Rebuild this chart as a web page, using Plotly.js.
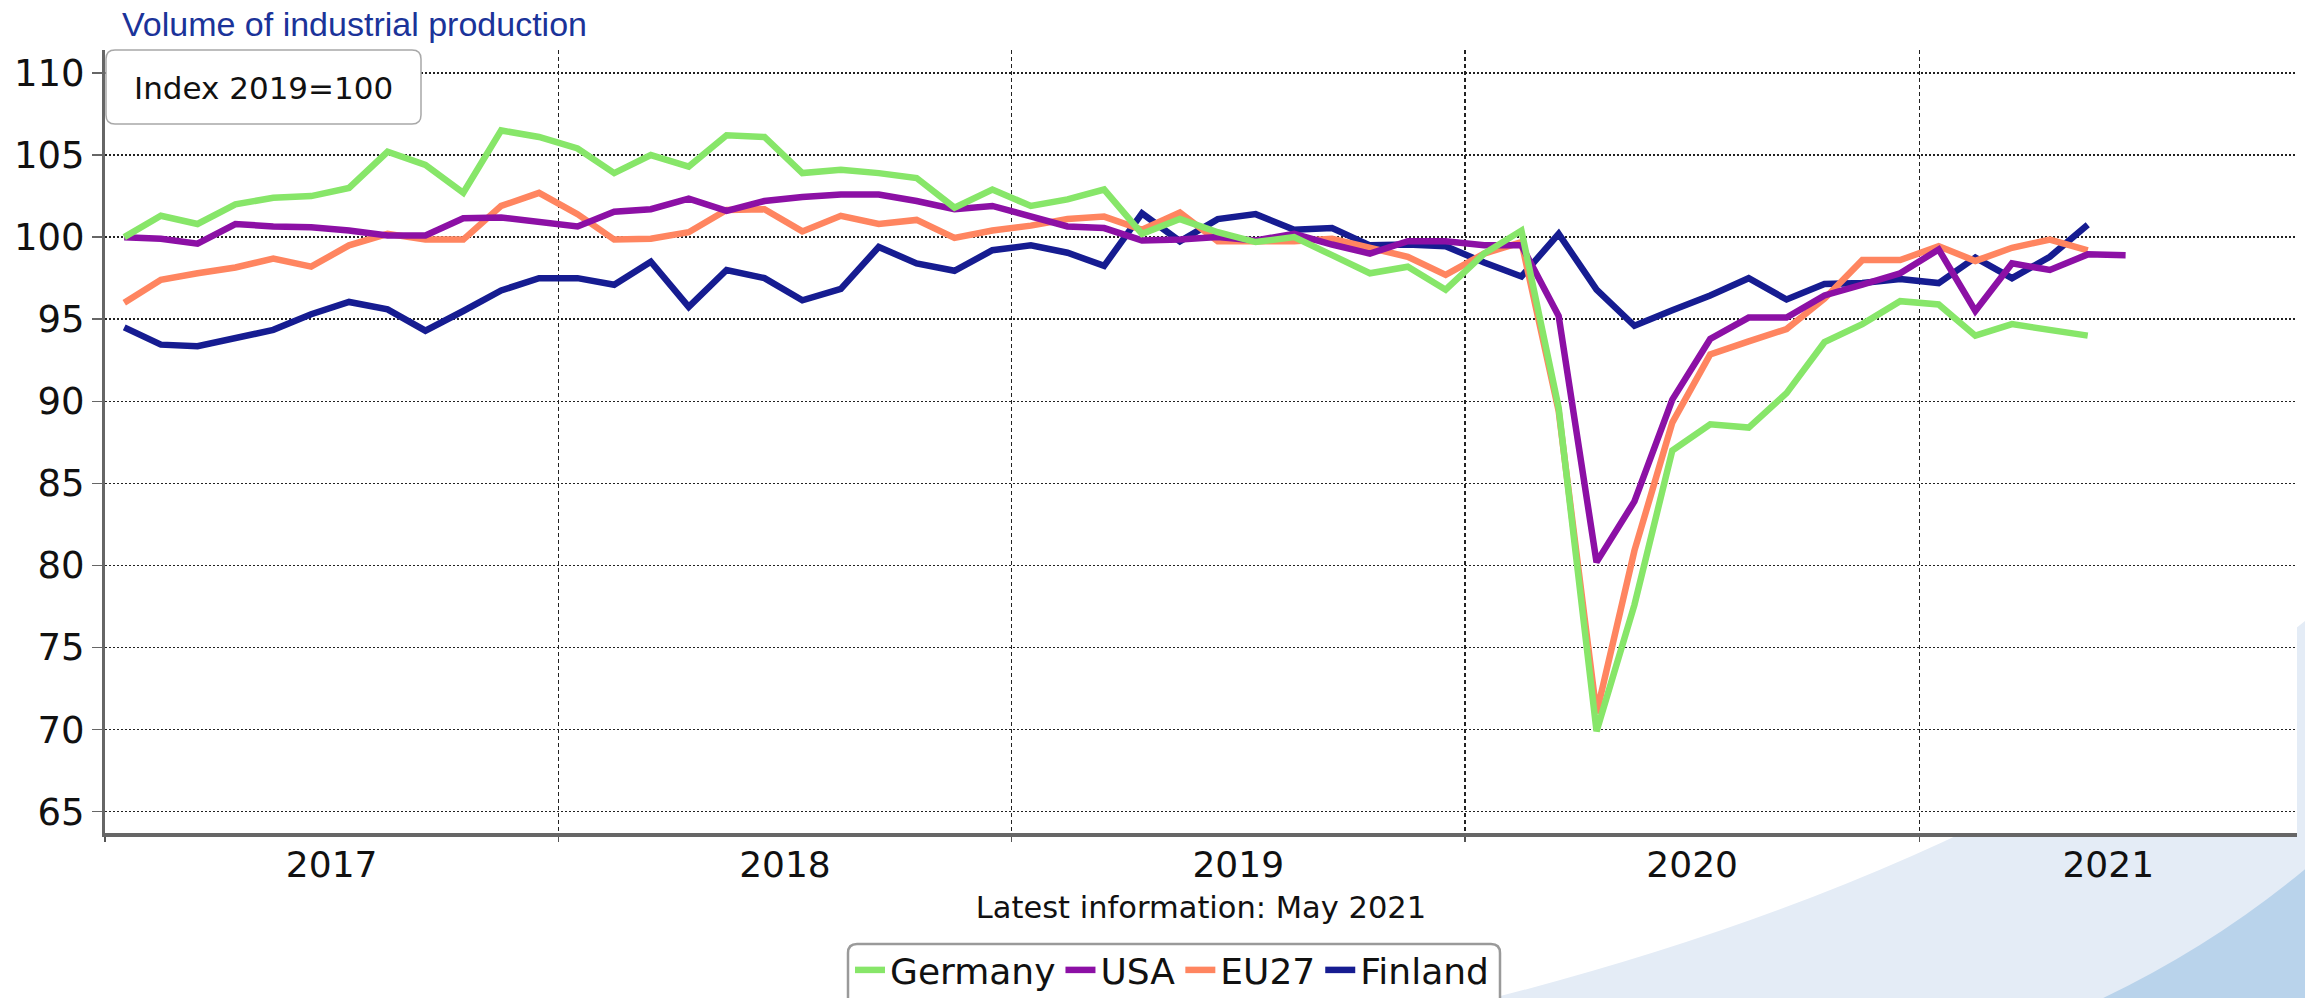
<!DOCTYPE html>
<html>
<head>
<meta charset="utf-8">
<script src="https://cdn.plot.ly/plotly-3.0.1.min.js"></script>
<style>
html,body{margin:0;padding:0;background:#ffffff;}
#chart{width:2305px;height:998px;}
</style>
</head>
<body>
<div id="chart"></div>
<script>
// ---- data (monthly index, 2019 = 100), first month Jan 2017 ----
const START_YEAR = 2017;
const seriesNames = ['Germany', 'USA', 'EU27', 'Finland'];
const seriesColors = ['#87e669', '#8c10a5', '#ff8560', '#161c91'];

const germany = [100.0, 101.3, 100.8, 102.0, 102.4, 102.5, 103.0, 105.2, 104.4, 102.7, 106.5, 106.1, 105.4,
  103.9, 105.0, 104.3, 106.2, 106.1, 103.9, 104.1, 103.9, 103.6, 101.8, 102.9, 101.9, 102.3,
  102.9, 100.2, 101.1, 100.3, 99.7, 100.0, 98.9, 97.8, 98.2, 96.8, 99.0, 100.4,
  89.6, 69.9, 77.6, 87.0, 88.6, 88.4, 90.5, 93.6, 94.7, 96.1, 95.9, 94.0, 94.7, 94.4, 94.0];

const usa = [100.0, 99.9, 99.6, 100.8, 100.65, 100.6, 100.4, 100.1, 100.1, 101.15, 101.2, 100.95, 100.65,
  101.55, 101.7, 102.35, 101.6, 102.2, 102.45, 102.6, 102.6, 102.2, 101.7, 101.9, 101.25, 100.65,
  100.55, 99.8, 99.85, 100.0, 99.8, 100.2, 99.55, 99.0, 99.75, 99.75, 99.5, 99.5,
  95.2, 80.2, 83.9, 90.1, 93.8, 95.1, 95.1, 96.45, 97.1, 97.8, 99.25, 95.5, 98.4, 98.0, 98.95, 98.9];

const eu27 = [96.0, 97.4, 97.8, 98.15, 98.7, 98.2, 99.5, 100.2, 99.85, 99.85, 101.9, 102.7, 101.4,
  99.85, 99.9, 100.3, 101.65, 101.7, 100.35, 101.3, 100.8, 101.05, 99.95, 100.4, 100.7, 101.1,
  101.25, 100.45, 101.5, 99.75, 99.75, 99.75, 99.9, 99.4, 98.8, 97.7, 99.0, 99.7,
  89.4, 71.0, 80.9, 88.7, 92.85, 93.65, 94.4, 96.25, 98.6, 98.6, 99.45, 98.55, 99.35, 99.85, 99.2];

const finland = [94.5, 93.45, 93.35, 93.8, 94.35, 95.3, 96.05, 95.6, 94.3, 95.5, 96.75, 97.5, 97.5,
  97.1, 98.5, 95.75, 98.0, 97.5, 96.15, 96.85, 99.4, 98.4, 97.95, 99.2, 99.5, 99.05,
  98.25, 101.45, 99.75, 101.1, 101.4, 100.45, 100.55, 99.5, 99.55, 99.45, 98.45, 97.6,
  100.2, 96.8, 94.6, 95.55, 96.45, 97.5, 96.2, 97.15, 97.2, 97.45, 97.2, 98.75, 97.5, 98.8, 100.75];

const yearLabels = ['2017', '2018', '2019', '2020', '2021'];
const yTicks = [65, 70, 75, 80, 85, 90, 95, 100, 105, 110];
const titleText = 'Volume of industrial production';
const indexNote = 'Index 2019=100';
const latestNote = 'Latest information: May 2021';

// ---- helpers ----
function monthStrings(n) {
  const out = [];
  for (let i = 0; i < n; i++) {
    const y = START_YEAR + Math.floor(i / 12);
    const m = (i % 12) + 1;
    out.push(y + '-' + String(m).padStart(2, '0'));
  }
  return out;
}
function fmt(ms) {
  return new Date(ms).toISOString().replace('T', ' ').replace('Z', '');
}

const W = 2305, H = 998;
const M = {l: 105, r: 8, t: 50, b: 165, autoexpand: false};
const PW = W - M.l - M.r, PH = H - M.t - M.b;
const px = x => (x - M.l) / PW;
const py = y => (H - M.b - y) / PH;

const rangeStartMs = Date.UTC(2017, 0, 1);
const rangeEndMs = Date.UTC(2021, 10, 1);

// year boundaries (grid) and label positions (centre of the visible part of each year)
const yearStarts = yearLabels.map(l => fmt(Date.UTC(+l, 0, 1)));
const labelPos = yearLabels.map(l => {
  const a = Date.UTC(+l, 0, 1);
  const b = Math.min(Date.UTC(+l + 1, 0, 1), rangeEndMs);
  return fmt((a + b) / 2);
});

function P2(x, y) { return px(x).toFixed(6) + ',' + py(y).toFixed(6); }
function roundRect(x0, y0, x1, y1, r) {
  return 'M' + P2(x0 + r, y0) + ' L' + P2(x1 - r, y0) + ' Q' + P2(x1, y0) + ' ' + P2(x1, y0 + r) +
    ' L' + P2(x1, y1 - r) + ' Q' + P2(x1, y1) + ' ' + P2(x1 - r, y1) +
    ' L' + P2(x0 + r, y1) + ' Q' + P2(x0, y1) + ' ' + P2(x0, y1 - r) +
    ' L' + P2(x0, y0 + r) + ' Q' + P2(x0, y0) + ' ' + P2(x0 + r, y0) + ' Z';
}

// ---- traces (drawn Finland first so Germany is on top) ----
const allValues = [germany, usa, eu27, finland];
const order = [3, 2, 1, 0];
const traces = order.map(i => ({
  type: 'scatter',
  mode: 'lines',
  name: seriesNames[i],
  x: monthStrings(allValues[i].length),
  y: allValues[i],
  xperiod: 'M1',
  xperiodalignment: 'middle',
  line: {color: seriesColors[i], width: 6.5},
  hoverinfo: 'skip'
}));

const FONT = 'DejaVu Sans, Verdana, sans-serif';
const GRID = '#222';

const layout = {
  width: W, height: H,
  margin: M,
  paper_bgcolor: '#ffffff',
  plot_bgcolor: '#ffffff',
  showlegend: true,
  title: {
    text: titleText,
    font: {family: 'Liberation Sans, Arial, sans-serif', size: 34, color: '#1b3399'},
    x: 122 / W, xref: 'container', xanchor: 'left',
    y: 1 - 12 / H, yref: 'container', yanchor: 'top'
  },
  xaxis: {
    type: 'date',
    range: [fmt(rangeStartMs), fmt(rangeEndMs)],
    tickmode: 'array',
    tickvals: labelPos,
    ticktext: yearLabels,
    ticks: '',
    showgrid: false,
    ticklabelstandoff: -3,
    tickfont: {family: FONT, size: 36, color: '#111'},
    minor: {
      tickmode: 'array',
      tickvals: yearStarts,
      showgrid: true, gridcolor: GRID, gridwidth: 1.5, griddash: '4px,3px',
      ticks: 'outside', ticklen: 5, tickcolor: '#555', tickwidth: 1.5
    },
    showline: true, linecolor: '#666', linewidth: 4,
    zeroline: false,
    fixedrange: true,
    title: {text: latestNote, font: {family: FONT, size: 30.5, color: '#111'}, standoff: 13}
  },
  yaxis: {
    range: [63.7, 111.4],
    tickmode: 'array',
    tickvals: yTicks,
    ticktext: yTicks.map(String),
    showgrid: true, gridcolor: GRID, gridwidth: 1.5, griddash: '2px,2px',
    showline: true, linecolor: '#666', linewidth: 3,
    ticks: 'outside', ticklen: 10, tickcolor: '#666', tickwidth: 1.5,
    ticklabelstandoff: 0,
    zeroline: false,
    fixedrange: true,
    tickfont: {family: FONT, size: 37, color: '#111'}
  },
  legend: {
    orientation: 'h',
    x: px(850), xanchor: 'left',
    y: py(940), yanchor: 'top',
    traceorder: 'reversed',
    bgcolor: 'rgba(0,0,0,0)',
    borderwidth: 0,
    font: {family: FONT, size: 36, color: '#111'},
    itemwidth: 30
  },
  shapes: [
    {type: 'path', xref: 'paper', yref: 'paper', layer: 'below',
      path: 'M' + P2(1485, 1000) + ' Q' + P2(2000, 870) + ' ' + P2(2310, 617) + ' L' + P2(2310, 1000) + ' Z',
      fillcolor: '#e4ecf6', line: {width: 0}},
    {type: 'path', xref: 'paper', yref: 'paper', layer: 'below',
      path: 'M' + P2(2099, 1000) + ' Q' + P2(2215, 945) + ' ' + P2(2310, 865) + ' L' + P2(2310, 1000) + ' Z',
      fillcolor: '#b9d3eb', line: {width: 0}},
    {type: 'rect', xref: 'paper', yref: 'paper', layer: 'below',
      x0: 0, x1: 1, y0: 0, y1: 1, fillcolor: '#ffffff', line: {width: 0}},
    {type: 'path', xref: 'paper', yref: 'paper', layer: 'above',
      path: roundRect(106, 50, 421, 124, 9),
      fillcolor: '#ffffff', line: {color: '#a8a8a8', width: 1.5}},
    {type: 'path', xref: 'paper', yref: 'paper', layer: 'above',
      path: roundRect(848, 944, 1500, 1012, 9),
      fillcolor: '#ffffff', line: {color: '#9a9a9a', width: 2.5}}
  ],
  annotations: [
    {text: indexNote, xref: 'paper', yref: 'paper', x: px(263.5), y: py(88),
      xanchor: 'center', yanchor: 'middle', showarrow: false,
      font: {family: FONT, size: 31, color: '#111'}}
  ]
};

Plotly.newPlot('chart', traces, layout, {displayModeBar: false, staticPlot: true});
</script>
</body>
</html>
